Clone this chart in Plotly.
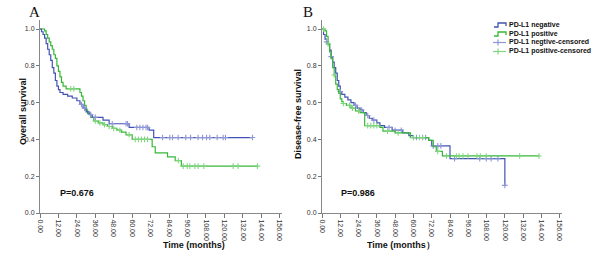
import plotly.graph_objects as go

W, H = 600, 257

# ---------------- Data ----------------
tick_months = [0, 12, 24, 36, 48, 60, 72, 84, 96, 108, 120, 132, 144, 156]
tick_month_labels = ["%.2f" % v for v in tick_months]
tick_surv = [0.0, 0.2, 0.4, 0.6, 0.8, 1.0]
tick_surv_labels = ["%.1f" % v for v in tick_surv]

# Panel A - Overall survival
a_neg_times = [0, 1, 2, 3, 4, 5, 6, 7, 8, 9, 10, 11, 12, 13, 15, 18, 21, 24, 26, 28, 30, 32, 34, 41, 45, 58, 71, 74]
a_neg_surv = [1.0, 0.985, 0.97, 0.95, 0.92, 0.89, 0.86, 0.83, 0.79, 0.76, 0.72, 0.69, 0.67, 0.655, 0.645, 0.635,
              0.625, 0.61, 0.59, 0.57, 0.55, 0.535, 0.52, 0.505, 0.485, 0.465, 0.45, 0.41]
a_neg_cens = [27, 29, 33, 36, 47, 56, 57, 63, 65, 67, 69, 70, 79.8, 84.5, 86.3, 89.9, 94.9, 98, 102.9, 105.8,
              108.4, 110.5, 115.3, 119.2, 120.7, 138.3]

a_pos_times = [0, 3, 4, 5, 6, 7, 8, 9, 10, 11, 12, 13, 14, 15, 17, 26, 27, 28, 29, 30, 31, 33, 35, 38, 41, 44, 47,
               50, 53, 56, 60, 73, 75, 83, 88, 92]
a_pos_surv = [1.0, 0.99, 0.97, 0.95, 0.93, 0.91, 0.89, 0.86, 0.84, 0.80, 0.77, 0.74, 0.71, 0.69, 0.675, 0.655,
              0.635, 0.61, 0.585, 0.56, 0.54, 0.52, 0.50, 0.49, 0.48, 0.47, 0.46, 0.45, 0.44, 0.425, 0.40, 0.36,
              0.327, 0.305, 0.285, 0.255]
a_pos_cens = [20, 22, 36, 39, 42, 45, 48, 52, 58, 62, 64, 66, 68, 70, 90, 93.2, 95.8, 97.5, 100.8, 102.9, 106.6,
              125.7, 128.9, 141.5]

# Panel B - Disease-free survival
b_neg_times = [0, 1, 2, 3, 4, 5, 6, 7, 8, 9, 10, 11, 12, 13, 15, 17, 19, 21, 23, 25, 27, 29, 31, 33, 36, 38, 41,
               46, 53, 57, 60, 70, 72, 84, 120]
b_neg_surv = [1.0, 0.97, 0.945, 0.93, 0.915, 0.885, 0.85, 0.82, 0.79, 0.76, 0.72, 0.69, 0.66, 0.645, 0.63, 0.615,
              0.60, 0.585, 0.57, 0.56, 0.545, 0.53, 0.515, 0.505, 0.49, 0.475, 0.465, 0.45, 0.435, 0.42, 0.41,
              0.395, 0.365, 0.295, 0.15]
b_neg_cens = [3, 6, 12, 22, 26, 30, 34, 44, 48, 52, 62, 66, 68, 73, 76, 78, 87, 103.5, 107.8, 111, 115.4, 120]

b_pos_times = [0, 2, 3, 4, 5, 6, 7, 8, 9, 10, 11, 12, 13, 14, 16, 19, 22, 25, 28, 38, 40, 48, 58, 70, 73, 75, 79]
b_pos_surv = [1.0, 0.99, 0.96, 0.92, 0.875, 0.84, 0.79, 0.75, 0.70, 0.67, 0.65, 0.62, 0.605, 0.595, 0.585, 0.57,
              0.555, 0.545, 0.475, 0.465, 0.445, 0.435, 0.41, 0.395, 0.36, 0.335, 0.31]
b_pos_cens = [1, 4, 8, 14, 18, 20, 24, 30, 32, 34, 36, 43, 50, 60, 64, 66, 76, 81.7, 88.2, 89.9, 92.5, 95.8,
              101.7, 103.9, 107.8, 129.7, 142.4]

p_values = ["P=0.676", "P=0.986"]
legend_labels = ["PD-L1 negative", "PD-L1 positive", "PD-L1 negtive-censored", "PD-L1 positive-censored"]

BLUE = "#4252b4"
GREEN = "#36b836"
BLUE_C = "#8e97d6"
GREEN_C = "#80d680"


def surv_at(times, surv, t):
    val = surv[0]
    for ti, si in zip(times, surv):
        if ti <= t:
            val = si
    return val


fig = go.Figure()


def add_curve(times, surv, cens, color, ccolor, xa, ya):
    end = max(cens[-1], times[-1])
    xs = list(times) + [end]
    ys = list(surv) + [surv[-1]]
    fig.add_trace(go.Scatter(x=xs, y=ys, mode="lines", line=dict(color=color, width=1.2, shape="hv"),
                             xaxis=xa, yaxis=ya, showlegend=False, hoverinfo="skip"))
    fig.add_trace(go.Scatter(x=cens, y=[surv_at(times, surv, c) for c in cens], mode="markers",
                             marker=dict(symbol="cross-thin", size=4, line=dict(color=ccolor, width=1.1)),
                             xaxis=xa, yaxis=ya, showlegend=False, hoverinfo="skip"))


add_curve(a_pos_times, a_pos_surv, a_pos_cens, GREEN, GREEN_C, "x", "y")
add_curve(a_neg_times, a_neg_surv, a_neg_cens, BLUE, BLUE_C, "x", "y")
add_curve(b_neg_times, b_neg_surv, b_neg_cens, BLUE, BLUE_C, "x2", "y2")
add_curve(b_pos_times, b_pos_surv, b_pos_cens, GREEN, GREEN_C, "x2", "y2")

y_dom = [(H - 213) / H, (H - 19.8) / H]

axis_font = dict(family="Liberation Sans, Arial, sans-serif", size=7, color="#333")
xcommon = dict(range=[0, 157.5], tickmode="array", tickvals=tick_months, ticktext=tick_month_labels,
               tickangle=90, ticks="outside", ticklen=4, tickcolor="#777", showline=True, linecolor="#888",
               linewidth=1, showgrid=False, zeroline=False, tickfont=axis_font)
ycommon = dict(range=[0, 1.05], tickmode="array", tickvals=tick_surv, ticktext=tick_surv_labels,
               ticks="outside", ticklen=3, tickcolor="#777", showline=True, linecolor="#888", linewidth=1,
               showgrid=False, zeroline=False, tickfont=axis_font, domain=y_dom)

fig.update_layout(
    width=W, height=H,
    margin=dict(l=0, r=0, t=0, b=0, autoexpand=False),
    paper_bgcolor="white", plot_bgcolor="white",
    showlegend=False,
    xaxis=dict(domain=[40 / W, 282 / W], anchor="y", **xcommon),
    yaxis=dict(anchor="x", **ycommon),
    xaxis2=dict(domain=[322 / W, 562 / W], anchor="y2", **xcommon),
    yaxis2=dict(anchor="x2", **ycommon),
)

bold = dict(family="Liberation Sans, Arial, sans-serif", size=9, color="#111")
serif = dict(family="Liberation Serif, Times New Roman, serif", size=15, color="#111")
ann = []
ann.append(dict(x=27 / W, y=(H - 2) / H, xref="paper", yref="paper", text="A", showarrow=False,
                yanchor="top", font=serif))
ann.append(dict(x=308 / W, y=(H - 2) / H, xref="paper", yref="paper", text="B", showarrow=False,
                yanchor="top", font=serif))
ann.append(dict(x=16 / W, y=(H - 112) / H, xref="paper", yref="paper", text="<b>Overall survival</b>",
                textangle=-90, showarrow=False, font=bold))
ann.append(dict(x=298 / W, y=(H - 114) / H, xref="paper", yref="paper", text="<b>Disease-free survival</b>",
                textangle=-90, showarrow=False, font=bold))
ann.append(dict(x=161 / W, y=(H - 252) / H, xref="paper", yref="paper", text="<b>Time (months)</b>",
                showarrow=False, font=bold))
ann.append(dict(x=437 / W, y=(H - 252) / H, xref="paper", yref="paper", text="<b>Time (months）</b>",
                showarrow=False, font=bold))
ann.append(dict(x=11.5, y=0.11, xref="x", yref="y", text="<b>" + p_values[0] + "</b>", xanchor="left",
                showarrow=False, font=bold))
ann.append(dict(x=11, y=0.11, xref="x2", yref="y2", text="<b>" + p_values[1] + "</b>", xanchor="left",
                showarrow=False, font=bold))

# Legend (drawn manually to mimic SPSS style)
rows = [25, 34, 42.5, 51.5]
lcolors = [BLUE, GREEN, BLUE_C, GREEN_C]
shapes = []


def px(x, y):
    return "%f,%f" % (x / W, (H - y) / H)


for i, (ry, lab, col) in enumerate(zip(rows, legend_labels, lcolors)):
    if i < 2:
        path = "M " + px(494, ry + 2) + " L " + px(498, ry + 2) + " L " + px(498, ry - 2) + " L " + \
               px(506, ry - 2) + " L " + px(506, ry + 1)
        shapes.append(dict(type="path", path=path, xref="paper", yref="paper", line=dict(color=col, width=1.3)))
    else:
        shapes.append(dict(type="line", x0=493 / W, x1=506 / W, y0=(H - ry) / H, y1=(H - ry) / H,
                           xref="paper", yref="paper", line=dict(color=col, width=1.2)))
        shapes.append(dict(type="line", x0=498 / W, x1=498 / W, y0=(H - ry - 3) / H, y1=(H - ry + 3) / H,
                           xref="paper", yref="paper", line=dict(color=col, width=1.2)))
    ann.append(dict(x=507 / W, y=(H - ry) / H, xref="paper", yref="paper", text="<b>" + lab + "</b>",
                    xanchor="left", yanchor="middle", showarrow=False,
                    font=dict(family="Liberation Sans, Arial, sans-serif", size=7, color="#111")))

fig.update_layout(annotations=ann, shapes=shapes)
fig.write_html("out.html", config={"displayModeBar": False},
               post_script="document.body.style.margin='0';document.body.style.padding='0';")
